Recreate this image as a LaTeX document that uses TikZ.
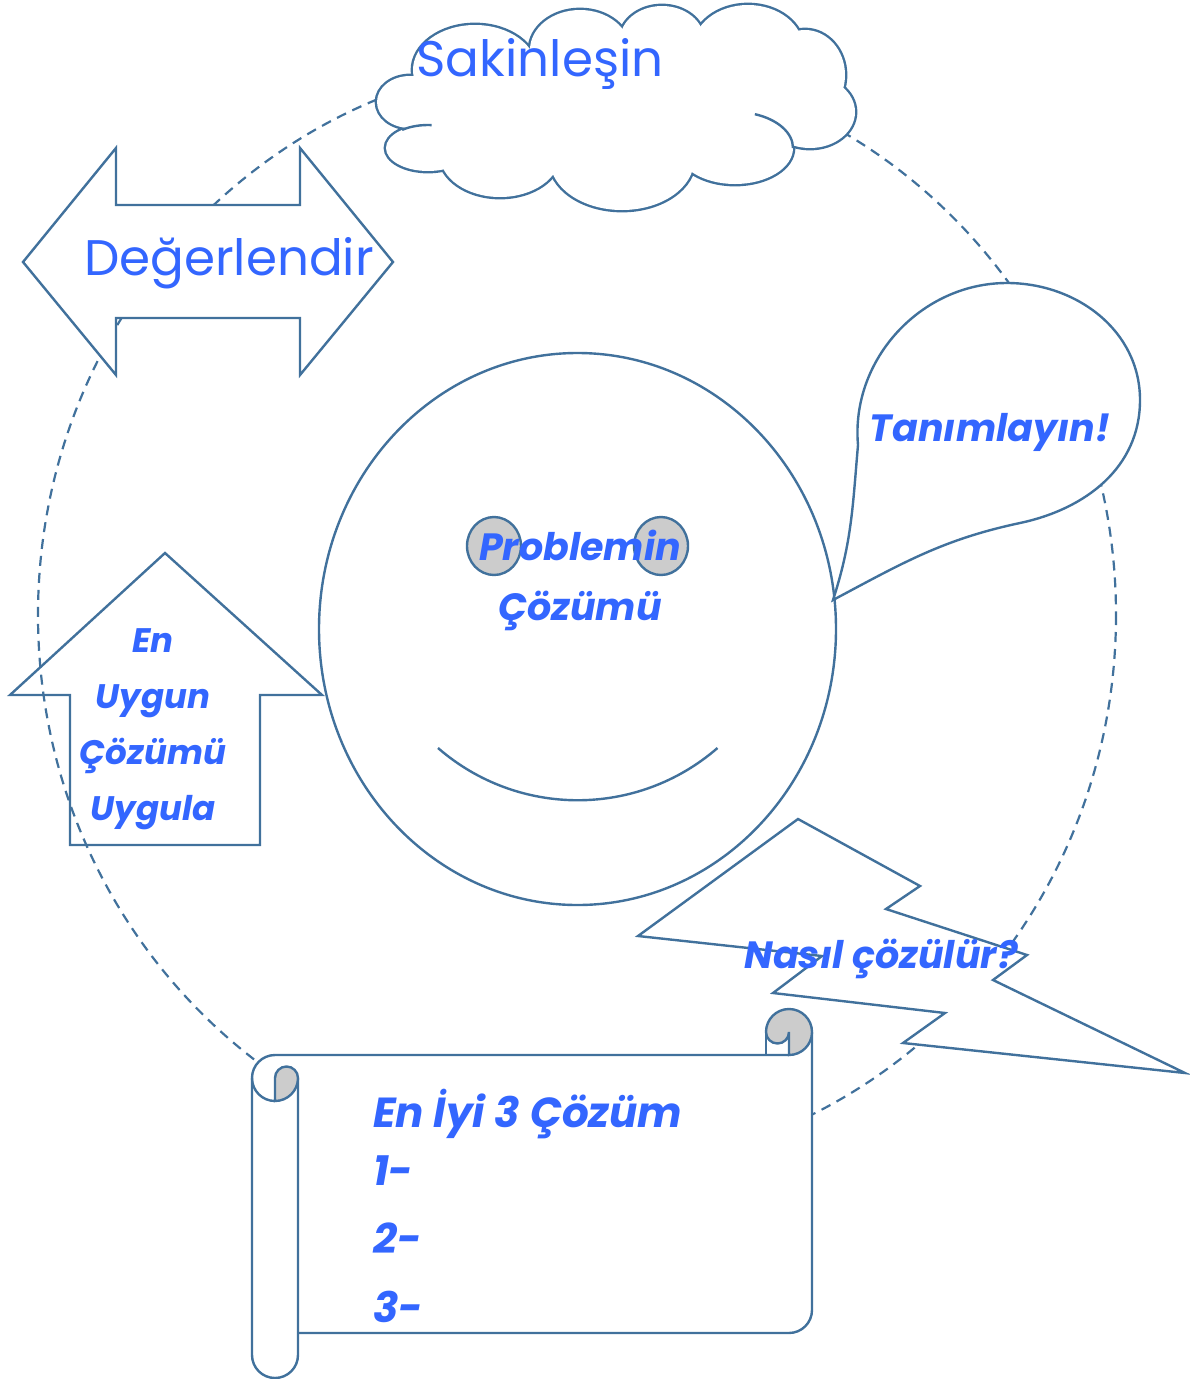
\documentclass[tikz,border=0pt]{standalone}
\usepackage{fontspec}
\setmainfont{Poppins}
\usetikzlibrary{calc}

\definecolor{edgeblue}{HTML}{41719C}
\definecolor{txtblue}{HTML}{3366FF}
\definecolor{curlgray}{HTML}{CCCCCC}

\tikzset{
	rim/.style={draw=edgeblue, line width=2.4pt},
	plaintxt/.style={text=txtblue, inner sep=0pt, font=\fontsize{50}{60}\selectfont},
	boldtxt/.style={text=txtblue, inner sep=0pt, font=\fontsize{38}{56}\selectfont\bfseries\itshape},
}

% puffs of the cloud: centre x / centre y / x radius / y radius
\def\cloudpuffs{410/102/33/26, 475/70/62/45, 580/50/50/40, 662/40/42/34, 748/48/55/43, 805/75/40/45, 810/112/45/36, 735/148/58/36, 622/160/72/50, 500/155/60/42, 428/148/42/23}

\begin{document}
\begin{tikzpicture}[x=1pt, y=1pt, yscale=-1]
			%%%%% START %%%%%
			\useasboundingbox (0, 0) rectangle (1189, 1379);
			
			% dashed cycle round everything
			\draw[edgeblue, line width=2.2pt, dash pattern=on 10pt off 7pt] (577, 615) ellipse [x radius=539, y radius=555];
			
			% face
			\draw[rim, fill=white] (577.5, 629) ellipse [x radius=258.5, y radius=276];
			\draw[rim, fill=curlgray] (494, 546) ellipse [x radius=27, y radius=29];
			\draw[rim, fill=curlgray] (661, 546) ellipse [x radius=27, y radius=29];
			\draw[rim] (438, 748) arc[start angle=131, end angle=49, radius=213];
			
			% cloud: thick strokes first, white fill on top keeps the outer half
			\foreach \cx/\cy/\rx/\ry in \cloudpuffs
				\draw[edgeblue, line width=4.8pt] (\cx, \cy) ellipse [x radius=\rx, y radius=\ry];
			\foreach \cx/\cy/\rx/\ry in \cloudpuffs
				\fill[white] (\cx, \cy) ellipse [x radius=\rx, y radius=\ry];
			\fill[white] (615, 108) ellipse [x radius=200, y radius=60];
			\draw[rim] (428, 148) ++(-128:42 and 23) arc[start angle=-128, end angle=-85, x radius=42, y radius=23];
			\draw[rim] (735, 148) ++(-70:58 and 36) arc[start angle=-70, end angle=0, x radius=58, y radius=36];
			
			% left-right arrow
			\draw[rim, fill=white] (23, 262) -- (116, 148) -- (116, 205) -- (300, 205) -- (300, 148) -- (393, 262) -- (300, 375) -- (300, 318) -- (116, 318) -- (116, 375) -- cycle;
			
			% up arrow (open)
			\draw[rim] (165, 553) -- (322, 695) -- (260, 695) -- (260, 845) -- (70, 845) -- (70, 695) -- (10, 695) -- cycle;
			
			% speech bubble
			\draw[rim, fill=white] (833, 600) to[out=-72, in=95] (858, 445) to[out=-95, in=180] (1007, 283) to[out=0, in=-90] (1140, 400) to[out=90, in=-12] (1020, 523) to[out=168, in=-28] (833, 600) -- cycle;
			
			% lightning bolt
			\draw[rim, fill=white] (638, 936) -- (798, 819) -- (920, 886) -- (886, 909) -- (1027, 955) -- (993, 980) -- (1185, 1073) -- (903, 1043) -- (945, 1013) -- (773, 993) -- (822, 956) -- cycle;
			
			% scroll: white body
			\fill[white] (275, 1055) rectangle (789, 1333);
			\fill[white] (789, 1032) rectangle (812, 1310);
			\fill[white] (252, 1078) rectangle (298, 1355);
			\fill[white] (275, 1078) circle (23);
			\fill[white] (275, 1355) circle (23);
			\fill[white] (789, 1032) circle (23);
			\fill[white] (789, 1310) circle (23);
			% scroll: outline
			\draw[rim] (252, 1078) arc[start angle=180, end angle=270, radius=23] -- (789, 1055);
			\draw[rim] (812, 1032) -- (812, 1310) arc[start angle=0, end angle=90, radius=23] -- (298, 1333);
			\draw[rim] (252, 1078) -- (252, 1355) arc[start angle=180, end angle=0, radius=23] -- (298, 1078);
			\draw[rim] (252, 1078) arc[start angle=180, end angle=90, radius=23];
			\draw[rim] (766, 1032) -- (766, 1055);
			% scroll: curled ends
			\draw[rim, fill=curlgray] (275, 1101) -- (275, 1078) arc[start angle=180, end angle=360, radius=11.5] arc[start angle=0, end angle=90, radius=23] -- cycle;
			\draw[rim, fill=curlgray] (766, 1032) arc[start angle=180, end angle=360, radius=23] arc[start angle=0, end angle=90, radius=23] -- (789, 1032) arc[start angle=0, end angle=180, radius=11.5] -- cycle;
			
			% texts
			\node[plaintxt, anchor=base] (sakin) at (540, 76) {Sakinleşin};
			\node[plaintxt, anchor=base] (degerlendir) at (229, 275) {Değerlendir};
			\node[boldtxt, anchor=base] (tanimla) at (990, 441) {Tanımlayın!};
			\node[boldtxt, align=center, font=\fontsize{38}{60}\selectfont\bfseries\itshape] (problem) at (580, 580) {Problemin\\Çözümü};
			\node[boldtxt, align=center, font=\fontsize{34}{56}\selectfont\bfseries\itshape] (uygula) at (153, 729) {En\\Uygun\\Çözümü\\Uygula};
			\node[boldtxt, anchor=base] (nasil) at (881, 968) {Nasıl çözülür?};
			\begin{scope}[every node/.style={boldtxt, anchor=base west, font=\fontsize{42}{56}\selectfont\bfseries\itshape}]
				\node (eniyi) at (373, 1127) {En İyi 3 Çözüm};
				\foreach \n/\y in {1/1185, 2/1253, 3/1322}
					\node (item\n) at (373, \y) {\n-};
			\end{scope}
			
			%%%%% END %%%%%
\end{tikzpicture}
\end{document}
